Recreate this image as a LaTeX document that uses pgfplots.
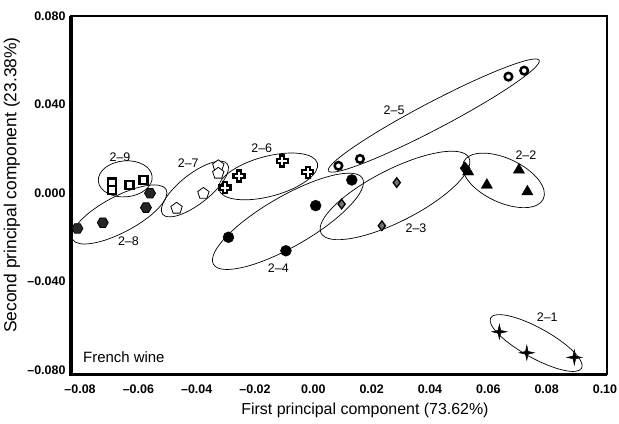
\documentclass[border=0pt]{standalone}
\usepackage{pgfplots}
\pgfplotsset{compat=1.18}
\usepackage{fontspec}
\setmainfont{Liberation Sans}
\usetikzlibrary{shapes.geometric,plotmarks}

\pgfdeclareplotmark{hexagon*}{%
  \pgfpathmoveto{\pgfpointpolar{0}{\pgfplotmarksize}}%
  \pgfpathlineto{\pgfpointpolar{60}{\pgfplotmarksize}}%
  \pgfpathlineto{\pgfpointpolar{120}{\pgfplotmarksize}}%
  \pgfpathlineto{\pgfpointpolar{180}{\pgfplotmarksize}}%
  \pgfpathlineto{\pgfpointpolar{240}{\pgfplotmarksize}}%
  \pgfpathlineto{\pgfpointpolar{300}{\pgfplotmarksize}}%
  \pgfpathclose
  \pgfusepathqfillstroke}
\pgfdeclareplotmark{ocross}{%
  \pgfpathmoveto{\pgfpoint{0.4\pgfplotmarksize}{\pgfplotmarksize}}%
  \pgfpathlineto{\pgfpoint{0.4\pgfplotmarksize}{0.4\pgfplotmarksize}}%
  \pgfpathlineto{\pgfpoint{\pgfplotmarksize}{0.4\pgfplotmarksize}}%
  \pgfpathlineto{\pgfpoint{\pgfplotmarksize}{-0.4\pgfplotmarksize}}%
  \pgfpathlineto{\pgfpoint{0.4\pgfplotmarksize}{-0.4\pgfplotmarksize}}%
  \pgfpathlineto{\pgfpoint{0.4\pgfplotmarksize}{-\pgfplotmarksize}}%
  \pgfpathlineto{\pgfpoint{-0.4\pgfplotmarksize}{-\pgfplotmarksize}}%
  \pgfpathlineto{\pgfpoint{-0.4\pgfplotmarksize}{-0.4\pgfplotmarksize}}%
  \pgfpathlineto{\pgfpoint{-\pgfplotmarksize}{-0.4\pgfplotmarksize}}%
  \pgfpathlineto{\pgfpoint{-\pgfplotmarksize}{0.4\pgfplotmarksize}}%
  \pgfpathlineto{\pgfpoint{-0.4\pgfplotmarksize}{0.4\pgfplotmarksize}}%
  \pgfpathlineto{\pgfpoint{-0.4\pgfplotmarksize}{\pgfplotmarksize}}%
  \pgfpathclose
  \pgfusepathqfillstroke}
\pgfdeclareplotmark{star4}{%
  \pgfpathmoveto{\pgfpoint{0pt}{\pgfplotmarksize}}%
  \pgfpathlineto{\pgfpoint{0.18\pgfplotmarksize}{0.18\pgfplotmarksize}}%
  \pgfpathlineto{\pgfpoint{\pgfplotmarksize}{0pt}}%
  \pgfpathlineto{\pgfpoint{0.18\pgfplotmarksize}{-0.18\pgfplotmarksize}}%
  \pgfpathlineto{\pgfpoint{0pt}{-\pgfplotmarksize}}%
  \pgfpathlineto{\pgfpoint{-0.18\pgfplotmarksize}{-0.18\pgfplotmarksize}}%
  \pgfpathlineto{\pgfpoint{-\pgfplotmarksize}{0pt}}%
  \pgfpathlineto{\pgfpoint{-0.18\pgfplotmarksize}{0.18\pgfplotmarksize}}%
  \pgfpathclose
  \pgfusepathqfillstroke}

\begin{document}
\begin{tikzpicture}
\useasboundingbox (-71bp,-50bp) rectangle (548bp,374bp);
\begin{axis}[
  scale only axis, width=536bp, height=358bp,
  at={(0,0)}, anchor=south west,
  xmin=-0.0831, xmax=0.1007, ymin=-0.0818, ymax=0.0800,
  clip=false,
  scaled ticks=false,
  axis line style={line width=2bp},
  major tick length=0pt,
  xtick={-0.08,-0.06,-0.04,-0.02,0,0.02,0.04,0.06,0.08,0.10},
  xticklabels={\textendash0.08,\textendash0.06,\textendash0.04,\textendash0.02,0.00,0.02,0.04,0.06,0.08,0.10},
  ytick={-0.08,-0.04,0,0.04,0.08},
  yticklabels={\textendash0.080,\textendash0.040,0.000,0.040,0.080},
  ticklabel style={font=\fontsize{12.5}{13}\selectfont\bfseries},
  xticklabel style={yshift=-7bp},
  yticklabel style={xshift=-2bp},
  xlabel={First principal component (73.62\%)},
  ylabel={Second principal component (23.38\%)},
  xlabel style={font=\fontsize{16}{18}\selectfont, at={(axis description cs:0.5485,-0.1006)}, anchor=center},
  ylabel style={font=\fontsize{17.5}{19}\selectfont, at={(axis description cs:-0.1101,0.528)}, anchor=center},
]
% group ellipses
\tikzset{grp/.style={draw=black, line width=0.7bp, ellipse, inner sep=0pt}}
\node[grp, minimum width=54bp, minimum height=36bp, rotate=5] at (axis cs:-0.0645,0.0064) {};
\node[grp, minimum width=106bp, minimum height=36bp, rotate=28] at (axis cs:-0.0665,-0.0097) {};
\node[grp, minimum width=82bp, minimum height=30bp, rotate=38] at (axis cs:-0.0406,0.0018) {};
\node[grp, minimum width=102bp, minimum height=40bp, rotate=15] at (axis cs:-0.0155,0.0075) {};
\node[grp, minimum width=238bp, minimum height=27bp, rotate=27.7] at (axis cs:0.0413,0.0350) {};
\node[grp, minimum width=172bp, minimum height=50bp, rotate=30] at (axis cs:-0.0087,-0.0128) {};
\node[grp, minimum width=166bp, minimum height=52bp, rotate=27] at (axis cs:0.0280,-0.0011) {};
\node[grp, minimum width=88bp, minimum height=44bp, rotate=-25] at (axis cs:0.0652,0.0057) {};
\node[grp, minimum width=104bp, minimum height=30bp, rotate=-29] at (axis cs:0.0764,-0.0678) {};

% 2-1
\addplot[only marks, mark=star4, mark size=7.5, mark options={fill=black, draw=black, line width=0.5bp}]
  coordinates {(0.0638,-0.0627) (0.0732,-0.0722) (0.0895,-0.0743)};
% 2-2
\addplot[only marks, mark=triangle*, mark size=6.5, mark options={fill=black, draw=black}]
  coordinates {(0.0531,0.0096) (0.0595,0.0036) (0.0705,0.0104) (0.0734,0.0006)};
% 2-3
\addplot[only marks, mark=diamond*, mark size=4.8, mark options={fill=black!55, draw=black, line width=1.3bp}]
  coordinates {(0.0097,-0.0050) (0.0235,-0.0148) (0.0286,0.0047)};
\addplot[only marks, mark=diamond*, mark size=6.5, mark options={fill=black, draw=black}]
  coordinates {(0.0520,0.0112)};
% 2-4
\addplot[only marks, mark=*, mark size=5.5, mark options={fill=black, draw=black}]
  coordinates {(-0.0291,-0.0200) (-0.0094,-0.0261) (0.0008,-0.0057) (0.0132,0.0059)};
% 2-5
\addplot[only marks, mark=*, mark size=3.8, mark options={fill=white, draw=black, line width=2.5bp}]
  coordinates {(0.0086,0.0123) (0.0160,0.0154) (0.0669,0.0526) (0.0723,0.0553)};
% 2-6
\addplot[only marks, mark=ocross, mark size=5.5, mark options={fill=white, draw=black, line width=2.2bp}]
  coordinates {(-0.0303,0.0024) (-0.0255,0.0077) (-0.0107,0.0145) (-0.0019,0.0094)};
% 2-7
\addplot[only marks, mark=pentagon*, mark size=6, mark options={fill=white, draw=black, line width=0.8bp}]
  coordinates {(-0.0326,0.0123) (-0.0326,0.0089) (-0.0377,-0.0002) (-0.0469,-0.0069)};
% 2-8
\addplot[only marks, mark=hexagon*, mark size=5.5, mark options={fill=black!85, draw=black, line width=0.8bp}]
  coordinates {(-0.0560,-0.0001) (-0.0574,-0.0066) (-0.0722,-0.0134) (-0.0809,-0.0160)};
% 2-9
\addplot[only marks, mark=square*, mark size=4, mark options={fill=white, draw=black, line width=2.4bp}]
  coordinates {(-0.0691,0.0047) (-0.0691,0.0014) (-0.0631,0.0036) (-0.0583,0.0059)};

% group labels
\tikzset{gl/.style={font=\fontsize{12.5}{13}\selectfont, inner sep=0pt}}
\node[gl] at (axis cs:-0.0663,0.0164) {2\textendash9};
\node[gl] at (axis cs:-0.0634,-0.0220) {2\textendash8};
\node[gl] at (axis cs:-0.0429,0.0134) {2\textendash7};
\node[gl] at (axis cs:-0.0177,0.0202) {2\textendash6};
\node[gl] at (axis cs:0.0277,0.0375) {2\textendash5};
\node[gl] at (axis cs:-0.0120,-0.0340) {2\textendash4};
\node[gl] at (axis cs:0.0352,-0.0160) {2\textendash3};
\node[gl] at (axis cs:0.0729,0.0170) {2\textendash2};
\node[gl] at (axis cs:0.0802,-0.0562) {2\textendash1};
\node[anchor=west, inner sep=0pt, font=\fontsize{15}{16}\selectfont] at (axis cs:-0.0790,-0.0741) {French wine};

\draw[line width=3bp] (rel axis cs:0,1) -- (rel axis cs:0,0) -- (rel axis cs:1,0);
\end{axis}
\end{tikzpicture}
\end{document}
